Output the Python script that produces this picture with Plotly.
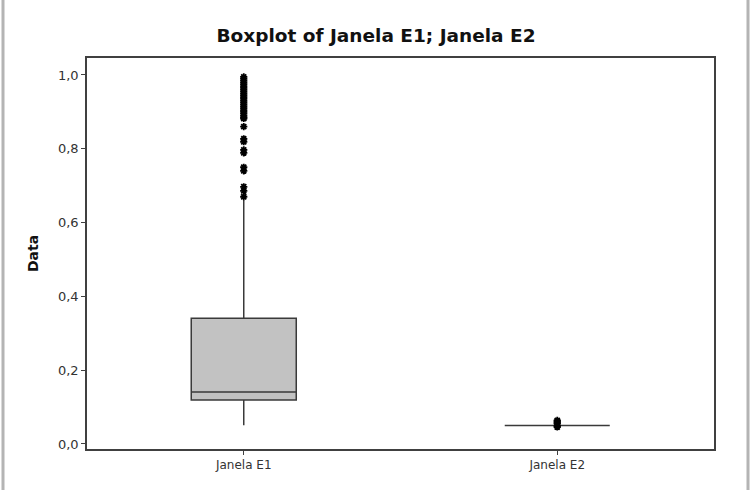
import plotly.graph_objects as go

categories = ["Janela E1", "Janela E2"]
q1 = [0.119, 0.050]
median = [0.141, 0.050]
q3 = [0.341, 0.050]
lower_fence = [0.051, 0.050]
upper_fence = [0.661, 0.050]

outliers_e1 = [0.995, 0.99, 0.985, 0.98, 0.975, 0.97, 0.965, 0.96, 0.955, 0.95, 0.945,
               0.94, 0.935, 0.93, 0.925, 0.92, 0.915, 0.91, 0.905, 0.90, 0.895, 0.89,
               0.885, 0.882, 0.86, 0.827, 0.819, 0.797, 0.789, 0.75, 0.74, 0.697,
               0.686, 0.670]
outliers_e2 = [0.046, 0.049, 0.055, 0.058, 0.061, 0.064]

tick_vals = [0.0, 0.2, 0.4, 0.6, 0.8, 1.0]

fig = go.Figure()
for i, cat in enumerate(categories):
    fig.add_trace(go.Box(
        x=[cat], q1=[q1[i]], median=[median[i]], q3=[q3[i]],
        lowerfence=[lower_fence[i]], upperfence=[upper_fence[i]],
        boxpoints=False, width=0.335, whiskerwidth=0,
        fillcolor="#c2c2c2", line=dict(color="#3a3a3a", width=1.5),
        showlegend=False, hoverinfo="skip"))

for cat, vals in zip(categories, [outliers_e1, outliers_e2]):
    fig.add_trace(go.Scatter(
        x=[cat] * len(vals), y=vals, mode="markers",
        marker=dict(symbol="asterisk-open", size=6, color="black",
                    line=dict(color="black", width=1.8)),
        showlegend=False, hoverinfo="skip"))

# outer light-gray frame around the whole image
fig.add_shape(type="rect", xref="paper", yref="paper",
              x0=(3 - 87) / 627, x1=(748 - 87) / 627,
              y0=(449 - 492) / 391, y1=(449 + 2) / 391,
              line=dict(color="#b4b4b4", width=3), layer="below")

fig.update_layout(
    width=756, height=490,
    margin=dict(l=87, r=42, t=58, b=41),
    paper_bgcolor="white", plot_bgcolor="white",
    separators=",.",
    boxmode="overlay",
    title=dict(text="<b>Boxplot of Janela E1; Janela E2</b>", x=376 / 756,
               xref="container", xanchor="center",
               y=1 - 36 / 490, yanchor="middle",
               font=dict(family="DejaVu Sans", size=18.5, color="#111")),
    font=dict(family="DejaVu Sans", size=12, color="#333"),
    xaxis=dict(type="category", range=[-0.5, 1.5], showgrid=False,
               showline=True, linecolor="#404040", linewidth=1.5, mirror=True,
               ticks="outside", ticklen=4, tickcolor="#404040",
               tickfont=dict(size=12, color="#333")),
    yaxis=dict(range=[-0.0136, 1.046], showgrid=False, zeroline=False,
               showline=True, linecolor="#404040", linewidth=1.5, mirror=True,
               ticks="outside", ticklen=4, tickcolor="#404040",
               tickvals=tick_vals, tickformat=".1f",
               tickfont=dict(size=13, color="#333"),
               title=dict(text="<b>Data</b>", font=dict(size=14, color="#111"),
                          standoff=16)),
)

fig.write_html("out.html")
